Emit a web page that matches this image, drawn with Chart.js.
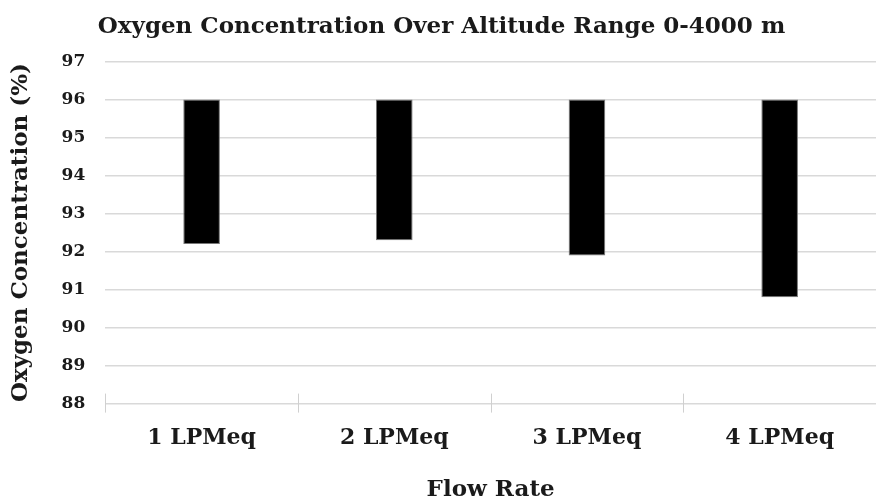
<!DOCTYPE html>
<html>
<head>
<meta charset="utf-8">
<script src="https://cdn.jsdelivr.net/npm/chart.js@4/dist/chart.umd.min.js"></script>
<style>
  html, body { margin: 0; padding: 0; background: #fff; }
  #wrap { width: 876px; height: 502px; }
</style>
</head>
<body>
<div id="wrap"><canvas id="myChart"></canvas></div>
<script>
// data
const flowRates = ['1 LPMeq', '2 LPMeq', '3 LPMeq', '4 LPMeq'];
const lowO2 = [92.2, 92.3, 91.9, 90.8];
const highO2 = [96, 96, 96, 96];

const font = 'DejaVu Serif';

// ticks at category edges that cross the axis line, as in the picture
const edgeTicks = {
  id: 'edgeTicks',
  afterDraw(chart) {
    const x = chart.scales.x, y = chart.scales.y;
    const ctx = chart.ctx;
    const yb = y.getPixelForValue(88);
    const n = flowRates.length;
    const w = (x.right - x.left) / n;
    ctx.save();
    ctx.strokeStyle = '#d0d0d0';
    ctx.lineWidth = 1;
    for (let k = 0; k <= n; k++) {
      const px = Math.round(x.left + k * w) + 0.5;
      ctx.beginPath();
      ctx.moveTo(px, yb - 10);
      ctx.lineTo(px, yb + 9);
      ctx.stroke();
    }
    ctx.restore();
  }
};

const ctx = document.getElementById('myChart').getContext('2d');
new Chart(ctx, {
  type: 'bar',
  data: {
    labels: flowRates,
    datasets: [{
      data: lowO2.map((v, i) => [v, highO2[i]]),
      backgroundColor: '#000',
      borderColor: '#777',
      borderWidth: 1,
      borderSkipped: false,
      barPercentage: 0.19,
      categoryPercentage: 1
    }]
  },
  options: {
    responsive: true,
    maintainAspectRatio: false,
    animation: false,
    layout: { padding: { top: 0, right: 0, left: 7, bottom: 0 } },
    plugins: {
      legend: { display: false },
      tooltip: { enabled: false },
      title: {
        display: true,
        text: 'Oxygen Concentration Over Altitude Range 0-4000 m',
        color: '#1a1a1a',
        font: { family: font, size: 23, weight: 'bold' },
        padding: { top: 13, bottom: 21 }
      }
    },
    scales: {
      x: {
        grid: { display: false },
        border: { display: false },
        ticks: {
          color: '#1a1a1a',
          font: { family: font, size: 22, weight: 'bold' },
          padding: 13
        },
        title: {
          display: true,
          text: 'Flow Rate',
          color: '#1a1a1a',
          font: { family: font, size: 23, weight: 'bold', lineHeight: 1 },
          padding: { top: 15, bottom: 0 }
        }
      },
      y: {
        min: 88,
        max: 97,
        ticks: {
          stepSize: 1,
          color: '#1a1a1a',
          font: { family: font, size: 17, weight: 'bold' },
          padding: 20
        },
        grid: { color: '#d9d9d9', drawTicks: false, lineWidth: 1.5 },
        border: { display: false },
        title: {
          display: true,
          text: 'Oxygen Concentration (%)',
          color: '#1a1a1a',
          font: { family: font, size: 23, weight: 'bold' },
          padding: { top: 0, bottom: 7 }
        }
      }
    }
  },
  plugins: [edgeTicks]
});
</script>
</body>
</html>
